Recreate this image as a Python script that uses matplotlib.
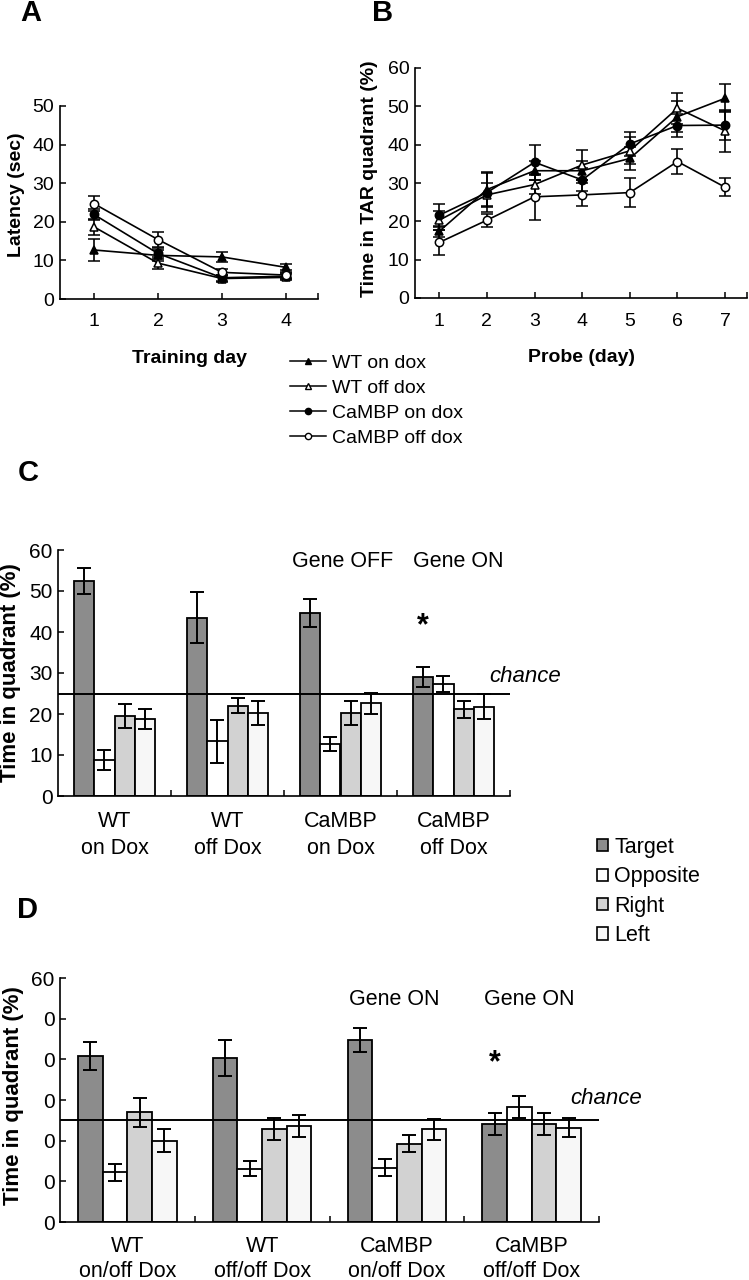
import numpy as np
import matplotlib.pyplot as plt
from matplotlib.lines import Line2D
from matplotlib.patches import Patch

plt.rcParams['font.family'] = ['Liberation Sans', 'DejaVu Sans']

# -----------------------
# Data
# -----------------------
# Panel A: escape latency (sec) over training days
train_days = [1, 2, 3, 4]
lat_wt_on = [12.7, 11.3, 10.9, 8.2]
lat_wt_on_err = [2.9, 1.5, 1.2, 0.8]
lat_wt_off = [18.7, 9.3, 5.3, 5.6]
lat_wt_off_err = [2.0, 1.5, 0.8, 0.8]
lat_cam_on = [21.9, 11.8, 5.5, 5.9]
lat_cam_on_err = [1.5, 1.5, 0.8, 0.8]
lat_cam_off = [24.7, 15.4, 6.9, 6.2]
lat_cam_off_err = [2.0, 1.9, 1.0, 0.8]

# Panel B: time in target quadrant (%) over probe days
probe_days = [1, 2, 3, 4, 5, 6, 7]
tar_wt_on = [17.4, 28.3, 33.2, 33.2, 36.4, 47.3, 52.1]
tar_wt_on_err = [1.5, 4.5, 2.5, 2.5, 3.0, 4.0, 3.7]
tar_wt_off = [20.3, 26.9, 29.6, 34.7, 38.4, 49.5, 43.6]
tar_wt_off_err = [2.5, 3.0, 2.5, 4.0, 3.5, 4.0, 5.5]
tar_cam_on = [21.6, 27.5, 35.4, 30.8, 40.2, 45.0, 45.1]
tar_cam_on_err = [3.0, 5.0, 4.6, 3.0, 3.2, 3.0, 3.8]
tar_cam_off = [14.5, 20.3, 26.4, 26.9, 27.5, 35.6, 28.9]
tar_cam_off_err = [3.3, 1.7, 6.0, 3.0, 3.8, 3.3, 2.4]

line_labels = ["WT on dox", "WT off dox", "CaMBP on dox", "CaMBP off dox"]

# Panel C: quadrant occupancy (%)
groups_c = ["WT\non Dox", "WT\noff Dox", "CaMBP\non Dox", "CaMBP\noff Dox"]
c_target = [52.5, 43.5, 44.6, 29.0]
c_target_err = [3.2, 6.3, 3.5, 2.4]
c_opposite = [8.8, 13.3, 12.6, 27.3]
c_opposite_err = [2.5, 5.2, 1.7, 1.9]
c_right = [19.5, 22.0, 20.2, 21.1]
c_right_err = [2.9, 1.8, 3.0, 2.0]
c_left = [18.7, 20.2, 22.6, 21.8]
c_left_err = [2.4, 3.0, 2.5, 3.1]

# Panel D: quadrant occupancy (%)
groups_d = ["WT\non/off Dox", "WT\noff/off Dox", "CaMBP\non/off Dox", "CaMBP\noff/off Dox"]
d_target = [40.9, 40.4, 44.7, 24.2]
d_target_err = [3.4, 4.4, 3.0, 2.7]
d_opposite = [12.2, 13.1, 13.4, 28.2]
d_opposite_err = [2.0, 1.8, 2.0, 2.7]
d_right = [27.0, 22.8, 19.3, 24.2]
d_right_err = [3.6, 2.7, 2.1, 2.7]
d_left = [20.0, 23.6, 22.8, 23.2]
d_left_err = [2.9, 2.7, 2.6, 2.3]

quadrants = ["Target", "Opposite", "Right", "Left"]
quad_colors = ["#8c8c8c", "#ffffff", "#d2d2d2", "#f7f7f7"]
chance = 25

# -----------------------
# Figure / helpers
# -----------------------
W, H = 749, 1280
fig = plt.figure(figsize=(W / 100, H / 100), dpi=100)


def px_axes(left, top, right, bottom):
    return fig.add_axes([left / W, 1 - bottom / H, (right - left) / W, (bottom - top) / H])


def style_axes(ax, labelsize):
    for s in ["top", "right"]:
        ax.spines[s].set_visible(False)
    for s in ["left", "bottom"]:
        ax.spines[s].set_linewidth(1.2)
    ax.tick_params(which="both", direction="in", width=1.1, labelsize=labelsize)
    ax.tick_params(axis="y", length=4, pad=4)


markers = [("^", "black"), ("^", "white"), ("o", "black"), ("o", "white")]

# -----------------------
# Panel A
# -----------------------
axA = px_axes(60, 106, 318, 299)
style_axes(axA, 14)
a_series = [(lat_wt_on, lat_wt_on_err), (lat_wt_off, lat_wt_off_err),
            (lat_cam_on, lat_cam_on_err), (lat_cam_off, lat_cam_off_err)]
for (vals, errs), (m, fc) in zip(a_series, markers):
    axA.errorbar(train_days, vals, yerr=errs, color="black", lw=1.2,
                 marker=m, markersize=6, mfc=fc, mec="black", mew=1.1,
                 capsize=4, elinewidth=1.2, capthick=1.2)
axA.set_xlim(0.47, 4.5)
axA.set_ylim(0, 50)
axA.set_xticks(train_days)
axA.set_xticks([4.5], minor=True)
axA.set_yticks(np.arange(0, 51, 10))
axA.tick_params(axis="x", which="both", length=4, pad=10)
axA.set_ylabel("Latency (sec)", fontsize=14, fontweight="bold")
axA.yaxis.set_label_coords(-0.135, 0.54)
axA.set_xlabel("Training day", fontsize=14, fontweight="bold")
axA.xaxis.set_label_coords(0.5, -0.265)

# -----------------------
# Panel B
# -----------------------
axB = px_axes(415, 68, 747, 298)
style_axes(axB, 14)
b_series = [(tar_wt_on, tar_wt_on_err), (tar_wt_off, tar_wt_off_err),
            (tar_cam_on, tar_cam_on_err), (tar_cam_off, tar_cam_off_err)]
for (vals, errs), (m, fc) in zip(b_series, markers):
    axB.errorbar(probe_days, vals, yerr=errs, color="black", lw=1.2,
                 marker=m, markersize=6, mfc=fc, mec="black", mew=1.1,
                 capsize=4, elinewidth=1.2, capthick=1.2)
axB.set_xlim(0.49, 7.46)
axB.set_ylim(0, 60)
axB.set_xticks(probe_days)
axB.set_xticks([7.46], minor=True)
axB.set_yticks(np.arange(0, 61, 10))
axB.tick_params(axis="x", which="both", length=4, pad=11)
axB.set_ylabel("Time in TAR quadrant (%)", fontsize=14, fontweight="bold")
axB.yaxis.set_label_coords(-0.111, 0.52)
axB.set_xlabel("Probe (day)", fontsize=14, fontweight="bold")
axB.xaxis.set_label_coords(0.5, -0.22)

# legend for A/B
handles = [Line2D([], [], color="black", lw=1.1, marker=m, markersize=4.5,
                  mfc=fc, mec="black", mew=1.0) for m, fc in markers]
fig.legend(handles, line_labels, loc="upper left",
           bbox_to_anchor=(290 / W, 1 - 354 / H), frameon=False,
           fontsize=14, handlelength=1.86, handletextpad=0.28,
           labelspacing=0.39, borderpad=0, borderaxespad=0)


# -----------------------
# Bar panels
# -----------------------
def bar_panel(ax, labels, series, width, ylabels, pad, spacing):
    style_axes(ax, 15)
    x = np.arange(len(labels))
    offsets = (np.arange(4) - 1.5) * width
    for off, (vals, errs), col in zip(offsets, series, quad_colors):
        ax.bar(x + off, vals, width, yerr=errs, color=col, edgecolor="black",
               linewidth=1.3, zorder=2,
               error_kw=dict(ecolor="black", elinewidth=1.4, capsize=5, capthick=1.4, zorder=3))
    ax.axhline(chance, color="black", lw=1.4, zorder=4)
    ax.set_xlim(-0.5, len(labels) - 0.5)
    ax.set_ylim(0, 60)
    ax.set_yticks(np.arange(0, 61, 10))
    ax.set_yticklabels(ylabels)
    ax.set_xticks(x)
    ax.set_xticklabels(labels, fontsize=15.5, linespacing=spacing)
    ax.set_xticks(list(x[1:] - 0.5) + [len(labels) - 0.5], minor=True)
    ax.tick_params(axis="x", which="major", length=0, pad=pad)
    ax.tick_params(axis="x", which="minor", length=4)
    ax.set_ylabel("Time in quadrant (%)", fontsize=16, fontweight="bold")


# Panel C
axC = px_axes(58, 550, 510, 796)
bar_panel(axC, groups_c,
          [(c_target, c_target_err), (c_opposite, c_opposite_err),
           (c_right, c_right_err), (c_left, c_left_err)],
          0.18, ["0", "10", "20", "30", "40", "50", "60"], 10.5, 1.4)
axC.yaxis.set_label_coords(-0.082, 0.5)
axC.text(2.02, 57.1, "Gene OFF", ha="center", va="center", fontsize=15.5)
axC.text(3.04, 57.1, "Gene ON", ha="center", va="center", fontsize=15.5)
axC.text(3 - 1.5 * 0.18, 41.3, "*", ha="center", va="center", fontsize=22, fontweight="bold")
axC.text(3.32, 29.1, "chance", ha="left", va="center", fontsize=16, style="italic")

# Panel D
axD = px_axes(60, 978, 599, 1222)
bar_panel(axD, groups_d,
          [(d_target, d_target_err), (d_opposite, d_opposite_err),
           (d_right, d_right_err), (d_left, d_left_err)],
          0.183, ["0", "0", "0", "0", "0", "0", "60"], 10, 1.28)
axD.yaxis.set_label_coords(-0.067, 0.52)
axD.text(1.98, 54.6, "Gene ON", ha="center", va="center", fontsize=15.5)
axD.text(2.98, 54.6, "Gene ON", ha="center", va="center", fontsize=15.5)
axD.text(3 - 1.5 * 0.183, 39.1, "*", ha="center", va="center", fontsize=22, fontweight="bold")
axD.text(3.29, 30.4, "chance", ha="left", va="center", fontsize=16, style="italic")

# quadrant legend
patches = [Patch(facecolor=c, edgecolor="black", linewidth=1.2) for c in quad_colors]
fig.legend(patches, quadrants, loc="upper left",
           bbox_to_anchor=(597 / W, 1 - 837 / H), frameon=False,
           fontsize=15.5, handlelength=0.5, handleheight=0.5, handletextpad=0.31,
           labelspacing=0.39, borderpad=0, borderaxespad=0)

# -----------------------
# Panel letters
# -----------------------
for letter, (px, py) in {"A": (31, 13), "B": (383, 13), "C": (28, 473), "D": (28, 910)}.items():
    fig.text(px / W, 1 - py / H, letter, ha="center", va="center",
             fontsize=21, fontweight="bold")

fig.savefig("out.png", dpi=100, facecolor="white")
